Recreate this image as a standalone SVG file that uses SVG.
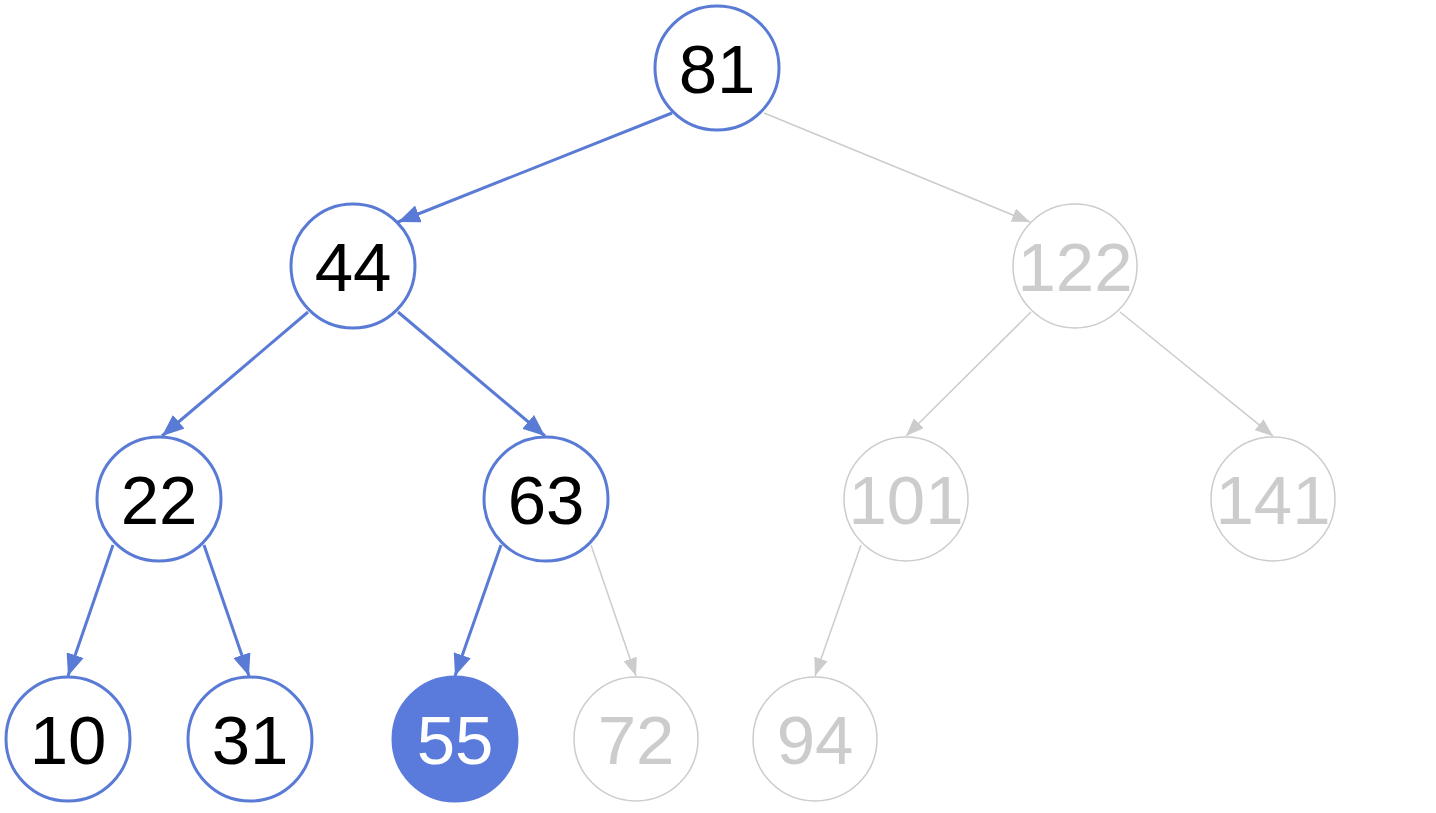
<svg xmlns="http://www.w3.org/2000/svg" width="1436" height="813" viewBox="0 0 1436 813">
<style>
.nb circle{fill:#fff;stroke:#5A7BD5;stroke-width:3}
.ng circle{fill:#fff;stroke:#CCCCCC;stroke-width:1.5}
.nf circle{fill:#5A7BDB;stroke:#5A7BDB;stroke-width:3}
text{font-family:"Liberation Sans",Arial,sans-serif;font-size:69px;text-anchor:middle}
.nb text{fill:#000}
.ng text{fill:#CCCCCC}
.nf text{fill:#fff}
.eb{stroke:#5A7BD5;stroke-width:3;fill:none;marker-end:url(#ab)}
.eg{stroke:#CCCCCC;stroke-width:1.5;fill:none;marker-end:url(#ag)}
</style>
<defs>
<marker id="ab" markerUnits="userSpaceOnUse" markerWidth="22" markerHeight="18" refX="22" refY="9" orient="auto"><path d="M0,0 L22,9 L0,18 z" fill="#5A7BD5"/></marker>
<marker id="ag" markerUnits="userSpaceOnUse" markerWidth="18" markerHeight="14" refX="18" refY="7" orient="auto"><path d="M0,0 L18,7 L0,14 z" fill="#CCCCCC"/></marker>
</defs>
<rect width="1436" height="813" fill="#fff"/>
<g id="edges">
<line class="eb" x1="672" y1="113" x2="398" y2="222"/>
<line class="eg" x1="764" y1="113" x2="1030" y2="222"/>
<line class="eb" x1="308" y1="312" x2="162" y2="436"/>
<line class="eb" x1="398" y1="312" x2="545" y2="436"/>
<line class="eg" x1="1031" y1="312" x2="906" y2="436"/>
<line class="eg" x1="1120" y1="312" x2="1273" y2="436"/>
<line class="eb" x1="113" y1="545" x2="68" y2="676"/>
<line class="eb" x1="204" y1="545" x2="249" y2="676"/>
<line class="eb" x1="501" y1="545" x2="455" y2="676"/>
<line class="eg" x1="591" y1="545" x2="636" y2="676"/>
<line class="eg" x1="861" y1="545" x2="815" y2="676"/>
</g>
<g id="n81" class="nb"><circle cx="717" cy="68" r="62"/><text x="717" y="93">81</text></g>
<g id="n44" class="nb"><circle cx="353" cy="266" r="62"/><text x="353" y="291">44</text></g>
<g id="n122" class="ng"><circle cx="1075" cy="266" r="62"/><text x="1075" y="291">122</text></g>
<g id="n22" class="nb"><circle cx="159" cy="499" r="62"/><text x="159" y="524">22</text></g>
<g id="n63" class="nb"><circle cx="546" cy="499" r="62"/><text x="546" y="524">63</text></g>
<g id="n101" class="ng"><circle cx="906" cy="499" r="62"/><text x="906" y="524">101</text></g>
<g id="n141" class="ng"><circle cx="1273" cy="499" r="62"/><text x="1273" y="524">141</text></g>
<g id="n10" class="nb"><circle cx="68" cy="739" r="62"/><text x="68" y="764">10</text></g>
<g id="n31" class="nb"><circle cx="250" cy="739" r="62"/><text x="250" y="764">31</text></g>
<g id="n55" class="nf"><circle cx="455" cy="739" r="62"/><text x="455" y="764">55</text></g>
<g id="n72" class="ng"><circle cx="636" cy="739" r="62"/><text x="636" y="764">72</text></g>
<g id="n94" class="ng"><circle cx="815" cy="739" r="62"/><text x="815" y="764">94</text></g>
</svg>
